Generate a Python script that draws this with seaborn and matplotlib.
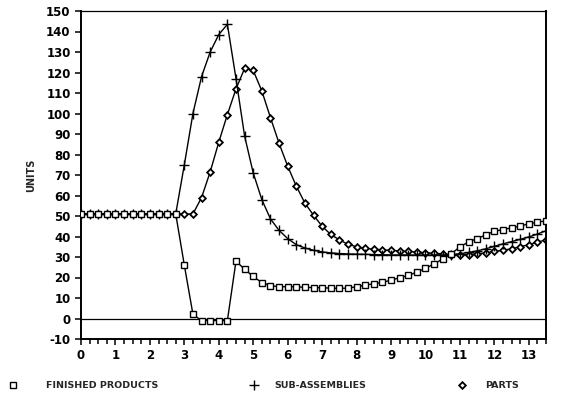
import numpy as np
import pandas as pd
import matplotlib
matplotlib.use("Agg")
import matplotlib.pyplot as plt
from matplotlib.lines import Line2D
from matplotlib.ticker import MultipleLocator, FixedLocator
import seaborn as sns

# Time axis: quarter steps from 0 to 13.5
weeks = np.arange(0, 13.5 + 0.001, 0.25)

finished_products = [51] * 12 + [
    26, 2, -1, -1, -1, -1,
    28, 24, 20.5, 17.5, 16, 15.5,
    15.5, 15.5, 15.2, 15.1, 15, 14.8,
    14.7, 14.8, 15.5, 16.2, 17, 17.6,
    18.7, 19.9, 21, 22.6, 24.4, 26.7,
    29, 31.5, 35, 37.3, 39, 40.8,
    42.5, 43.4, 44.2, 45.1, 46.2, 47,
    47.6,
]

sub_assemblies = [51] * 12 + [
    75, 100, 118, 130, 138.5, 143.5,
    117, 89, 71, 58, 48.6, 43,
    39, 36, 34.4, 33.3, 32.5, 32,
    31.7, 31.5, 31.4, 31.3, 31.2, 31.1,
    31, 31, 31, 30.9, 30.9, 30.9,
    31, 31.2, 31.6, 32.2, 33, 34,
    35.2, 36.4, 37.5, 38.6, 39.8, 41.2,
    42.8,
]

parts = [51] * 12 + [
    51, 51, 59, 71.5, 86, 99.5,
    112, 122, 121, 111, 98, 85.5,
    74.3, 64.6, 56.3, 50.4, 45, 41,
    38.4, 36.2, 35, 34.2, 33.8, 33.5,
    33.2, 33, 32.7, 32.4, 32.1, 31.8,
    31.5, 31.2, 31, 31.2, 31.6, 32,
    32.7, 33.3, 34, 35, 36, 37.2,
    38.4,
]

series_names = ["FINISHED PRODUCTS", "SUB-ASSEMBLIES", "PARTS"]
x_tick_labels = [str(i) for i in range(0, 14)]
y_tick_values = list(range(-10, 151, 10))

df = pd.DataFrame({
    "week": np.concatenate([weeks] * 3),
    "units": finished_products + sub_assemblies + parts,
    "series": np.repeat(series_names, len(weeks)),
})

sns.set_theme(style="white", rc={
    "xtick.bottom": True, "ytick.left": True,
    "xtick.top": False, "ytick.right": False,
    "xtick.direction": "out", "ytick.direction": "out",
    "xtick.major.size": 4.5, "ytick.major.size": 4.5,
    "xtick.minor.size": 3.5, "xtick.major.width": 1.1,
    "ytick.major.width": 1.1, "xtick.minor.width": 1.1,
    "xtick.color": "black", "ytick.color": "black",
})
plt.rcParams["font.family"] = ["DejaVu Sans"]
plt.rcParams["font.weight"] = "bold"

fig = plt.figure(figsize=(5.85, 4.0), dpi=100)
ax = fig.add_axes([81 / 585, 1 - 339 / 400, (546 - 81) / 585, (339 - 11) / 400])

marker_style = {
    "FINISHED PRODUCTS": dict(marker="s", markersize=4.6, markerfacecolor="white",
                              markeredgecolor="black", markeredgewidth=1.0),
    "SUB-ASSEMBLIES": dict(marker="+", markersize=6.5, markeredgecolor="black",
                           markeredgewidth=1.0),
    "PARTS": dict(marker="D", markersize=3.4, markerfacecolor="white",
                  markeredgecolor="black", markeredgewidth=1.3),
}
draw_order = {"FINISHED PRODUCTS": 4, "SUB-ASSEMBLIES": 3, "PARTS": 2}

for name in series_names:
    sub = df[df["series"] == name]
    sns.lineplot(data=sub, x="week", y="units", ax=ax, color="black",
                 linewidth=1.0, legend=False, zorder=draw_order[name],
                 **marker_style[name])

ax.axhline(0, color="black", linewidth=0.9, zorder=1)

ax.set_xlim(0, 13.5)
ax.set_ylim(-10, 150)
ax.set_xticks(range(0, 14))
ax.set_xticklabels(x_tick_labels, fontsize=8.5, fontweight="bold")
ax.xaxis.set_minor_locator(FixedLocator(weeks))
ax.set_yticks(y_tick_values)
ax.set_yticklabels([str(v) for v in y_tick_values], fontsize=8.5, fontweight="bold")
ax.tick_params(axis="both", which="major", direction="out", length=4.5, width=1.1,
               color="black", pad=3, bottom=True, left=True, top=False, right=False)
ax.tick_params(axis="x", which="minor", direction="out", length=3.5, width=1.1,
               color="black", bottom=True, top=False)
ax.set_xlabel("")
ax.set_ylabel("UNITS", fontsize=7, fontweight="bold", labelpad=7)

for side in ["left", "bottom", "right"]:
    ax.spines[side].set_visible(True)
    ax.spines[side].set_color("black")
    ax.spines[side].set_linewidth(1.4)
ax.spines["top"].set_visible(True)
ax.spines["top"].set_color("black")
ax.spines["top"].set_linewidth(0.9)
ax.grid(False)

# Legend entries laid out across the bottom of the figure
legend_specs = [
    ("FINISHED PRODUCTS", 4 / 585, 3.0),
    ("SUB-ASSEMBLIES", 245 / 585, 1.7),
    ("PARTS", 453 / 585, 2.0),
]
for name, x0, pad in legend_specs:
    handle = Line2D([], [], linestyle="none", **marker_style[name])
    fig.legend([handle], [name], loc="center left", bbox_to_anchor=(x0, 1 - 386 / 400),
               frameon=False, handlelength=1.0, handletextpad=pad, borderaxespad=0,
               prop={"size": 6.8, "weight": "bold"})

fig.savefig("out.png", dpi=100)
